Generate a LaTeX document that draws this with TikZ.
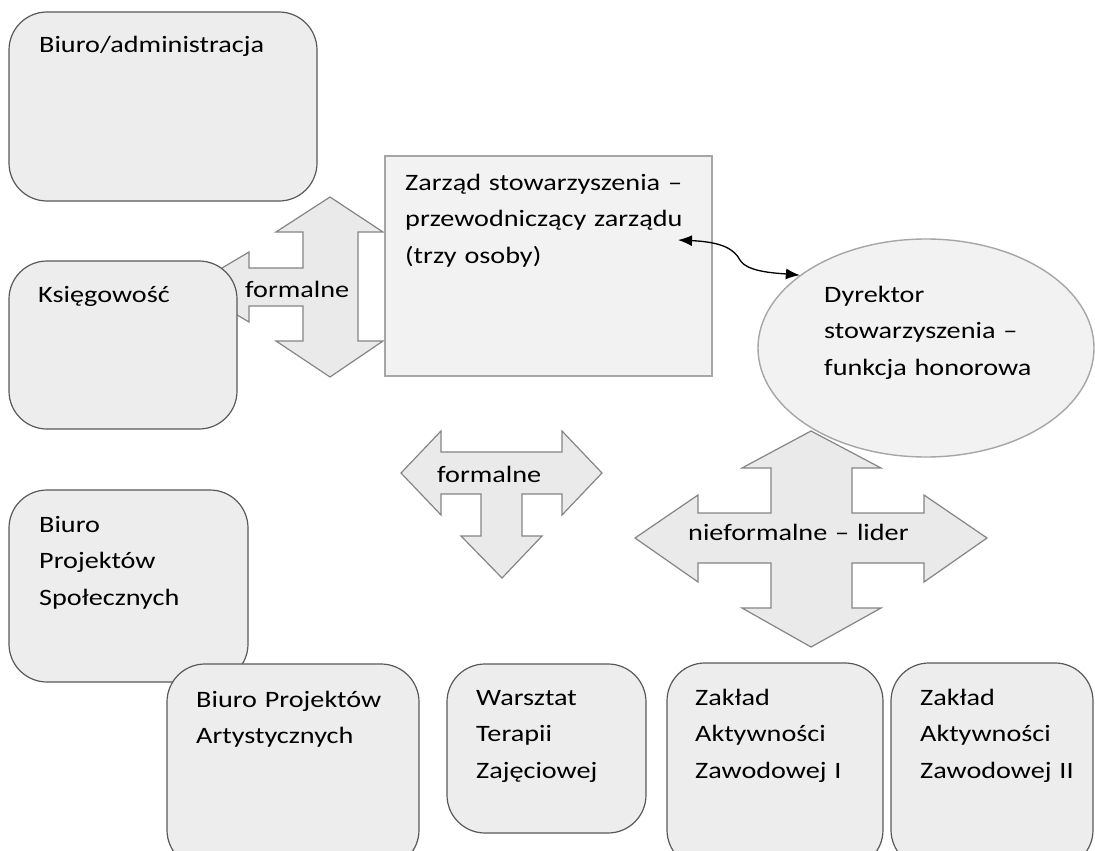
\documentclass[tikz,border=0pt]{standalone}
\usepackage{fontspec}
\setmainfont{Carlito}[FakeStretch=1.2]
\usetikzlibrary{arrows.meta,shapes.geometric}

\definecolor{boxfill}{HTML}{EDEDED}
\definecolor{boxline}{HTML}{595959}
\definecolor{rectfill}{HTML}{F2F2F2}
\definecolor{rectline}{HTML}{A6A6A6}
\definecolor{arrowfill}{HTML}{EAEAEA}
\definecolor{arrowline}{HTML}{858585}

\newcommand{\boxfont}{\fontsize{23.5}{36.5}\selectfont}

\tikzset{
  unitbox/.style={draw=boxline, fill=boxfill, line width=1.2pt, rounded corners=38pt, inner sep=0pt},
  boardbox/.style={draw=rectline, fill=rectfill, line width=1.4pt, inner sep=0pt},
  headoval/.style={ellipse, draw=rectline, fill=rectfill, line width=1.4pt, inner sep=0pt},
  blockarrow/.style={draw=arrowline, fill=arrowfill, line width=1.2pt, line join=miter},
  lbl/.style={anchor=base west, inner sep=0pt, text width=300pt, align=left, font=\boxfont},
}

\begin{document}
\begin{tikzpicture}[x=1pt, y=-1pt]
    % Page
    \useasboundingbox (0,0) rectangle (1095,851);
    \clip (0,0) rectangle (1095,851);
    \fill[white] (0,0) rectangle (1095,851);

    % Biuro/administracja
    \node[unitbox, minimum width=308pt, minimum height=189pt] (admin) at (163,106.5) {};

    % Arrow: formalne (left, up, down)
    \draw[blockarrow] (330,197) -- (383,232) -- (358,232) -- (358,341) -- (383,341)
        -- (330,377) -- (276,341) -- (303,341) -- (303,306) -- (249,306) -- (249,322)
        -- (190,287) -- (249,252) -- (249,268) -- (303,268) -- (303,232) -- (276,232) -- cycle;

    % Ksiegowosc
    \node[unitbox, minimum width=228pt, minimum height=168pt] (ksieg) at (123,345) {};

    % Zarzad
    \node[boardbox, minimum width=327pt, minimum height=220pt] (zarzad) at (548.5,266) {};

    % Arrow: formalne (left, right, down)
    \draw[blockarrow] (401,473) -- (441,431) -- (441,452) -- (562,452) -- (562,431)
        -- (602,473) -- (562,515) -- (562,494) -- (522,494) -- (522,536) -- (542,536)
        -- (502,578) -- (461,536) -- (481,536) -- (481,494) -- (441,494) -- (441,515) -- cycle;

    % Arrow: nieformalne - lider (four ways)
    \draw[blockarrow] (811,431) -- (881,468) -- (852,468) -- (852,513) -- (924,513)
        -- (924,495) -- (987,538) -- (924,582) -- (924,563) -- (852,563) -- (852,608)
        -- (881,608) -- (811,647) -- (742,608) -- (771,608) -- (771,563) -- (698,563)
        -- (698,582) -- (635,538) -- (698,495) -- (698,513) -- (771,513) -- (771,468)
        -- (742,468) -- cycle;

    % Dyrektor
    \node[headoval, minimum width=336pt, minimum height=218pt] (dyr) at (926,348) {};

    % Bottom boxes
    \node[unitbox, minimum width=239pt, minimum height=192pt] (spol) at (128.5,586) {};
    \node[unitbox, minimum width=252pt, minimum height=204pt] (artyst) at (293,766) {};
    \node[unitbox, minimum width=199pt, minimum height=169pt] (warsztat) at (546.5,748.5) {};
    \node[unitbox, minimum width=216pt, minimum height=205pt] (zaklad1) at (775,765.5) {};
    \node[unitbox, minimum width=202pt, minimum height=205pt] (zaklad2) at (992,765.5) {};

    % Texts
    \node[lbl] (admin-t) at (39,53) {Biuro/administracja};
    \node[lbl] (ksieg-t) at (38,302) {Księgowość};
    \node[lbl] (zarzad-t) at (405,190) {Zarząd stowarzyszenia –\\przewodniczący zarządu\\(trzy osoby)};
    \node[lbl] (dyr-t) at (824,302) {Dyrektor\\stowarzyszenia –\\funkcja honorowa};
    \node[lbl] (spol-t) at (39,532) {Biuro\\Projektów\\Społecznych};
    \node[lbl] (artyst-t) at (196,707) {Biuro Projektów\\Artystycznych};
    \node[lbl] (warsztat-t) at (476,705) {Warsztat\\Terapii\\Zajęciowej};
    \node[lbl] (zaklad1-t) at (695,705) {Zakład\\Aktywności\\Zawodowej I};
    \node[lbl] (zaklad2-t) at (920,705) {Zakład\\Aktywności\\Zawodowej II};
    \node[lbl] (form1) at (245,297) {formalne};
    \node[lbl] (form2) at (437,482) {formalne};
    \node[lbl] (niefor) at (688,540) {nieformalne – lider};

    % Connector zarzad <-> dyrektor
    \coordinate (zarzad-in) at (678,240);
    \draw[{Latex[length=14pt,width=11pt]}-{Latex[length=14pt,width=11pt]}, line width=1.3pt]
        (zarzad-in) .. controls (722,242) and (734,249) .. (740,260)
        .. controls (747,272) and (775,273) .. (dyr.150);
\end{tikzpicture}
\end{document}
